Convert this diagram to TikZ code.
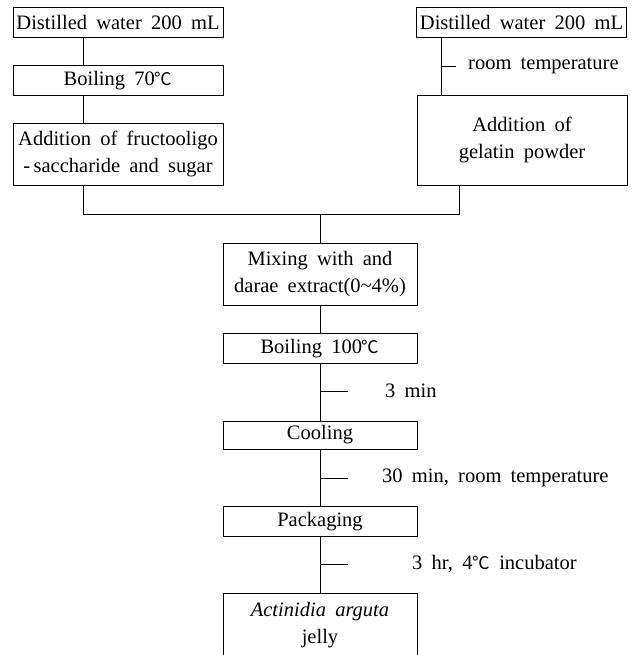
\documentclass[tikz,border=0pt]{standalone}
\usepackage{fontspec}
\setmainfont{Liberation Serif}[WordSpace=1.8]
\newfontfamily\cjkfont{Noto Sans CJK KR}
\newcommand{\degC}{{\cjkfont\fontsize{17.5}{20}\selectfont ℃}}
\newcommand{\flowsize}{\fontsize{20.5}{27}\selectfont}
\begin{document}
\begin{tikzpicture}[x=1pt,y=-1pt,
    stepbox/.style={draw,line width=0.8pt,inner sep=0pt,align=center,
      minimum width=210pt,minimum height=30pt,font=\flowsize},
    midbox/.style={stepbox,minimum width=194pt},
    note/.style={anchor=west,inner sep=0pt,font=\flowsize},
    flow/.style={line width=0.8pt}]
  \clip (0,0) rectangle (634,655);
  % left branch
  \node[stepbox] (dwl) at (118,22) {Distilled water 200 mL};
  \node[stepbox] (boilA) at (118,80.5) {Boiling 70\degC};
  \node[stepbox,minimum height=62pt] (fos) at (118,154)
    {Addition of fructooligo\\ -\,saccharide and sugar};
  % right branch
  \node[stepbox] (dwr) at (521.5,22) {Distilled water 200 mL};
  \node[stepbox,minimum height=90pt] (gel) at (522,140)
    {Addition of\\gelatin powder};
  % main line
  \node[midbox,minimum height=62pt] (mix) at (320,274)
    {Mixing with and\\darae extract(0\textasciitilde4\%)};
  \node[midbox] (boilB) at (320,348.5) {Boiling 100\degC};
  \node[midbox,minimum height=28pt] (cool) at (320,435) {Cooling};
  \node[midbox] (pack) at (320,521.5) {Packaging};
  \node[midbox,minimum height=64pt] (jelly) at (320,625)
    {\textit{Actinidia arguta}\\jelly};
  % lines
  \coordinate (xl) at (83,0);
  \coordinate (xr) at (441,0);
  \coordinate (xg) at (459,0);
  \coordinate (join) at (320,214);
  \draw[flow] (dwl.south -| xl) -- (boilA.north -| xl);
  \draw[flow] (boilA.south -| xl) -- (fos.north -| xl);
  \draw[flow] (fos.south -| xl) |- (join);
  \draw[flow] (dwr.south -| xr) -- (gel.north -| xr);
  \draw[flow] (gel.south -| xg) |- (join);
  \draw[flow] (join) -- (mix.north);
  \draw[flow] (mix) -- (boilB);
  \draw[flow] (boilB) -- (cool);
  \draw[flow] (cool) -- (pack);
  \draw[flow] (pack) -- (jelly);
  % conditions
  \coordinate (ta) at (456,66);
  \coordinate (tb) at (348,391);
  \coordinate (tc) at (348,478);
  \coordinate (td) at (348,564);
  \draw[flow] (ta -| xr) -- (ta);
  \draw[flow] (tb -| join) -- (tb);
  \draw[flow] (tc -| join) -- (tc);
  \draw[flow] (td -| join) -- (td);
  \node[note] (ca) at (468,66) {room temperature};
  \node[note] (cb) at (385,391) {3 min};
  \node[note] (cc) at (382,478) {30 min, room temperature};
  \node[note] (cd) at (412,564) {3 hr, 4\degC{} incubator};
\end{tikzpicture}
\end{document}
